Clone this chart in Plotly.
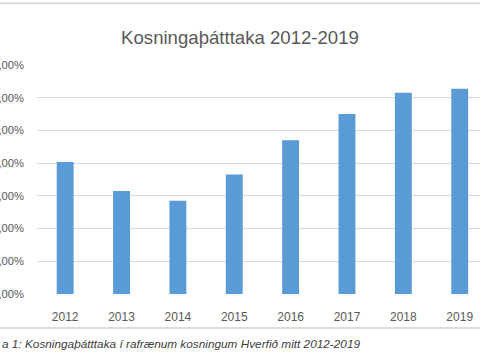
import plotly.graph_objects as go

years = ["2012", "2013", "2014", "2015", "2016", "2017", "2018", "2019"]
turnout = [0.0807, 0.0630, 0.0570, 0.0730, 0.0940, 0.1100, 0.1230, 0.1255]
y_ticks = [0, 0.02, 0.04, 0.06, 0.08, 0.10, 0.12, 0.14]
title_text = "Kosningaþátttaka 2012-2019"
caption_text = "a 1: Kosningaþátttaka í rafrænum kosningum Hverfið mitt 2012-2019"

font_family = "Liberation Sans, Arial, sans-serif"

fig = go.Figure(
    go.Bar(
        x=list(range(len(years))),
        y=turnout,
        width=0.30,
        marker=dict(color="#5B9BD5", line=dict(width=0)),
        hoverinfo="skip",
    )
)

fig.update_layout(
    width=480,
    height=360,
    margin=dict(l=37, r=0, t=65, b=66),
    paper_bgcolor="white",
    plot_bgcolor="white",
    separators=",.",
    showlegend=False,
    font=dict(family=font_family, size=12, color="#595959"),
    title=dict(
        text=title_text,
        x=0.5,
        xref="container",
        xanchor="center",
        y=1 - 37 / 360,
        yanchor="middle",
        font=dict(family=font_family, size=18.6, color="#595959"),
    ),
    xaxis=dict(
        range=[-0.5, 7.36],
        tickmode="array",
        tickvals=list(range(len(years))),
        ticktext=years,
        showgrid=False,
        zeroline=False,
        showline=False,
        ticks="",
        ticklabelstandoff=14,
        fixedrange=True,
    ),
    yaxis=dict(
        range=[0, 0.14],
        tickmode="array",
        tickvals=y_ticks,
        tickformat=".2%",
        tickfont=dict(size=11.2),
        showgrid=True,
        gridcolor="#D9D9D9",
        gridwidth=1,
        zeroline=False,
        showline=False,
        ticks="",
        ticklabelstandoff=12,
        automargin=False,
        fixedrange=True,
    ),
    shapes=[
        dict(type="line", xref="paper", yref="paper", x0=-0.2, x1=1.2,
             y0=(293.5 - 3.5) / 228.5, y1=(293.5 - 3.5) / 228.5,
             line=dict(color="#D0D0D0", width=1.5)),
        dict(type="line", xref="paper", yref="paper", x0=-0.2, x1=1.2,
             y0=-(327.5 - 293.5) / 228.5, y1=-(327.5 - 293.5) / 228.5,
             line=dict(color="#D0D0D0", width=1.5)),
    ],
    annotations=[
        dict(
            text="<i>" + caption_text + "</i>",
            xref="paper", yref="paper",
            x=-37 / 443, xanchor="left",
            y=-(343 - 293.5) / 228.5, yanchor="middle",
            showarrow=False,
            font=dict(family=font_family, size=11.8, color="#404040"),
        )
    ],
)

fig.write_html(
    "out.html",
    config={"displayModeBar": False},
    post_script="document.body.style.margin='0';document.body.style.padding='0';",
)
